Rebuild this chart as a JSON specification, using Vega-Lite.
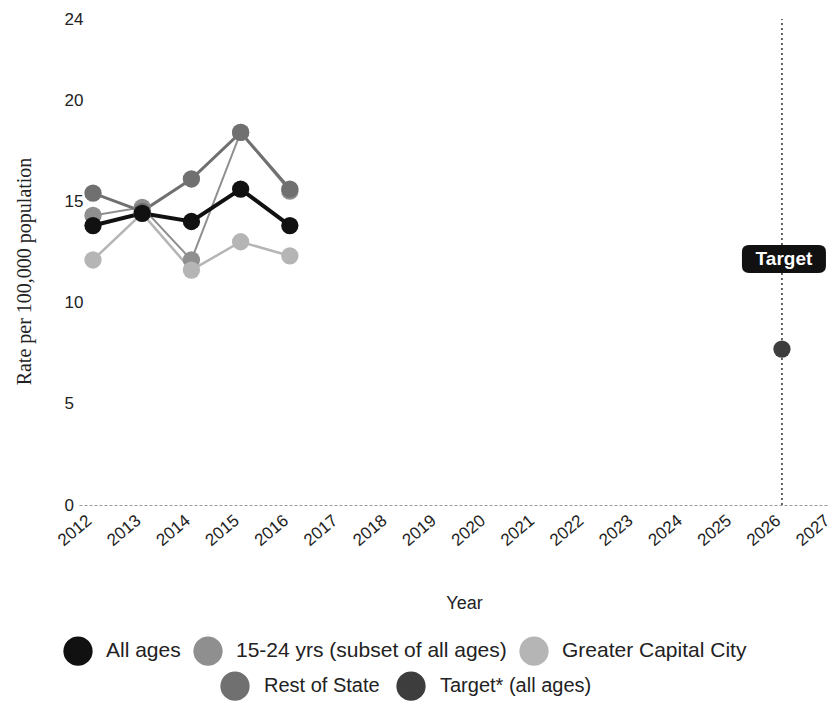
{
  "$schema": "https://vega.github.io/schema/vega-lite/v6.json",
  "width": 749,
  "height": 486,
  "autosize": {"type": "none"},
  "padding": {"left": 79, "top": 19, "right": 0, "bottom": 196},
  "background": "white",
  "config": {
    "view": {"stroke": null},
    "font": "Liberation Sans",
    "axis": {"grid": false}
  },
  "datasets": {
    "rates": [
      {"year": 2012, "series": "All ages", "value": 13.8},
      {"year": 2013, "series": "All ages", "value": 14.4},
      {"year": 2014, "series": "All ages", "value": 14.0},
      {"year": 2015, "series": "All ages", "value": 15.6},
      {"year": 2016, "series": "All ages", "value": 13.8},
      {"year": 2012, "series": "15-24 yrs (subset of all ages)", "value": 14.3},
      {"year": 2013, "series": "15-24 yrs (subset of all ages)", "value": 14.7},
      {"year": 2014, "series": "15-24 yrs (subset of all ages)", "value": 12.1},
      {"year": 2015, "series": "15-24 yrs (subset of all ages)", "value": 18.4},
      {"year": 2016, "series": "15-24 yrs (subset of all ages)", "value": 15.5},
      {"year": 2012, "series": "Greater Capital City", "value": 12.1},
      {"year": 2013, "series": "Greater Capital City", "value": 14.4},
      {"year": 2014, "series": "Greater Capital City", "value": 11.6},
      {"year": 2015, "series": "Greater Capital City", "value": 13.0},
      {"year": 2016, "series": "Greater Capital City", "value": 12.3},
      {"year": 2012, "series": "Rest of State", "value": 15.4},
      {"year": 2013, "series": "Rest of State", "value": 14.5},
      {"year": 2014, "series": "Rest of State", "value": 16.1},
      {"year": 2015, "series": "Rest of State", "value": 18.4},
      {"year": 2016, "series": "Rest of State", "value": 15.6},
      {"year": 2026, "series": "Target* (all ages)", "value": 7.7}
    ],
    "label": [
      {"year": 2026, "value": 12.15, "text": "Target"}
    ]
  },
  "encoding": {
    "x": {
      "field": "year",
      "type": "quantitative",
      "scale": {"domain": [2011.7155, 2027.2], "range": [0, 762], "nice": false, "zero": false},
      "axis": {
        "values": [2012, 2013, 2014, 2015, 2016, 2017, 2018, 2019, 2020, 2021, 2022, 2023, 2024, 2025, 2026, 2027],
        "format": "d",
        "labelAngle": -40,
        "labelAlign": "right",
        "labelBaseline": "middle",
        "labelFontSize": 17,
        "labelColor": "#222",
        "labelFlush": false,
        "labelOverlap": false,
        "labelBound": false,
        "ticks": false,
        "labelPadding": 13,
        "labelOffset": -4,
        "domainDash": [3, 2],
        "domainColor": "#999",
        "domainWidth": 1,
        "title": "Year",
        "titleFontSize": 18,
        "titleFontWeight": "normal",
        "titleColor": "#222",
        "titleX": 385,
        "titleY": 103,
        "titleAlign": "center",
        "titleBaseline": "alphabetic"
      }
    },
    "y": {
      "field": "value",
      "type": "quantitative",
      "scale": {"domain": [0, 24], "nice": false, "zero": true},
      "axis": {
        "values": [0, 5, 10, 15, 20, 24],
        "domain": false,
        "ticks": false,
        "labelAlign": "left",
        "labelPadding": 15,
        "labelFontSize": 17,
        "labelColor": "#222",
        "title": "Rate per 100,000 population",
        "titleFont": "Liberation Serif",
        "titleFontSize": 20,
        "titleFontWeight": "normal",
        "titleColor": "#222",
        "titleX": -55,
        "titleY": 252,
        "titleAngle": -90,
        "titleAlign": "center",
        "titleBaseline": "middle"
      }
    }
  },
  "layer": [
    {
      "data": {"name": "rates"},
      "transform": [{"filter": "datum.series === 'Target* (all ages)'"}],
      "mark": {"type": "rule", "color": "#333", "strokeDash": [2, 3], "strokeWidth": 1.5},
      "encoding": {"y": {"datum": 0}, "y2": {"datum": 24}}
    },
    {
      "data": {"name": "rates"},
      "transform": [{"filter": "datum.series === 'Greater Capital City'"}],
      "mark": {"type": "line", "color": "#b5b5b5", "strokeWidth": 2.5}
    },
    {
      "data": {"name": "rates"},
      "transform": [{"filter": "datum.series === '15-24 yrs (subset of all ages)'"}],
      "mark": {"type": "line", "color": "#8f8f8f", "strokeWidth": 2}
    },
    {
      "data": {"name": "rates"},
      "transform": [{"filter": "datum.series === 'Rest of State'"}],
      "mark": {"type": "line", "color": "#707070", "strokeWidth": 3}
    },
    {
      "data": {"name": "rates"},
      "transform": [{"filter": "datum.series === 'All ages'"}],
      "mark": {"type": "line", "color": "#111111", "strokeWidth": 4}
    },
    {
      "data": {"name": "rates"},
      "transform": [{"filter": "datum.series === 'Greater Capital City' || datum.series === '15-24 yrs (subset of all ages)'"}],
      "mark": {"type": "circle", "size": 300, "opacity": 1},
      "encoding": {
        "fill": {
          "field": "series",
          "type": "nominal",
          "scale": {"domain": ["All ages", "15-24 yrs (subset of all ages)", "Greater Capital City"], "range": ["#111111", "#8f8f8f", "#b5b5b5"]},
          "legend": {
            "orient": "none",
            "legendX": -16,
            "legendY": 617,
            "direction": "horizontal",
            "title": null,
            "symbolType": "circle",
            "symbolSize": 855,
            "symbolStrokeWidth": 0,
            "labelFontSize": 21,
            "labelColor": "#222",
            "labelOffset": 13,
            "columnPadding": 12,
            "labelLimit": 400
          }
        }
      }
    },
    {
      "data": {"name": "rates"},
      "transform": [{"filter": "datum.series === 'Rest of State' || datum.series === 'Target* (all ages)'"}],
      "mark": {"type": "circle", "size": 300, "opacity": 1},
      "encoding": {
        "color": {
          "field": "series",
          "type": "nominal",
          "scale": {"domain": ["Rest of State", "Target* (all ages)"], "range": ["#707070", "#3d3d3d"]},
          "legend": {
            "orient": "none",
            "legendX": 141,
            "legendY": 652,
            "direction": "horizontal",
            "title": null,
            "symbolType": "circle",
            "symbolSize": 855,
            "symbolStrokeWidth": 0,
            "labelFontSize": 20,
            "labelColor": "#222",
            "labelOffset": 14,
            "columnPadding": 16,
            "labelLimit": 400
          }
        }
      }
    },
    {
      "data": {"name": "rates"},
      "transform": [{"filter": "datum.series === 'All ages'"}],
      "mark": {"type": "circle", "size": 300, "opacity": 1},
      "encoding": {
        "fill": {
          "field": "series",
          "type": "nominal",
          "scale": {"domain": ["All ages", "15-24 yrs (subset of all ages)", "Greater Capital City"], "range": ["#111111", "#8f8f8f", "#b5b5b5"]}
        }
      }
    },
    {
      "data": {"name": "label"},
      "mark": {
        "type": "point",
        "shape": "M-0.83,-0.333L0.83,-0.333Q1,-0.333 1,-0.167L1,0.167Q1,0.333 0.83,0.333L-0.83,0.333Q-1,0.333 -1,0.167L-1,-0.167Q-1,-0.333 -0.83,-0.333Z",
        "size": 7056,
        "filled": true,
        "color": "#111111",
        "opacity": 1,
        "xOffset": 2
      }
    },
    {
      "data": {"name": "label"},
      "mark": {"type": "text", "color": "white", "font": "Liberation Sans", "fontWeight": "bold", "fontSize": 19, "align": "center", "baseline": "middle", "dx": 2},
      "encoding": {"text": {"field": "text", "type": "nominal"}}
    }
  ]
}
